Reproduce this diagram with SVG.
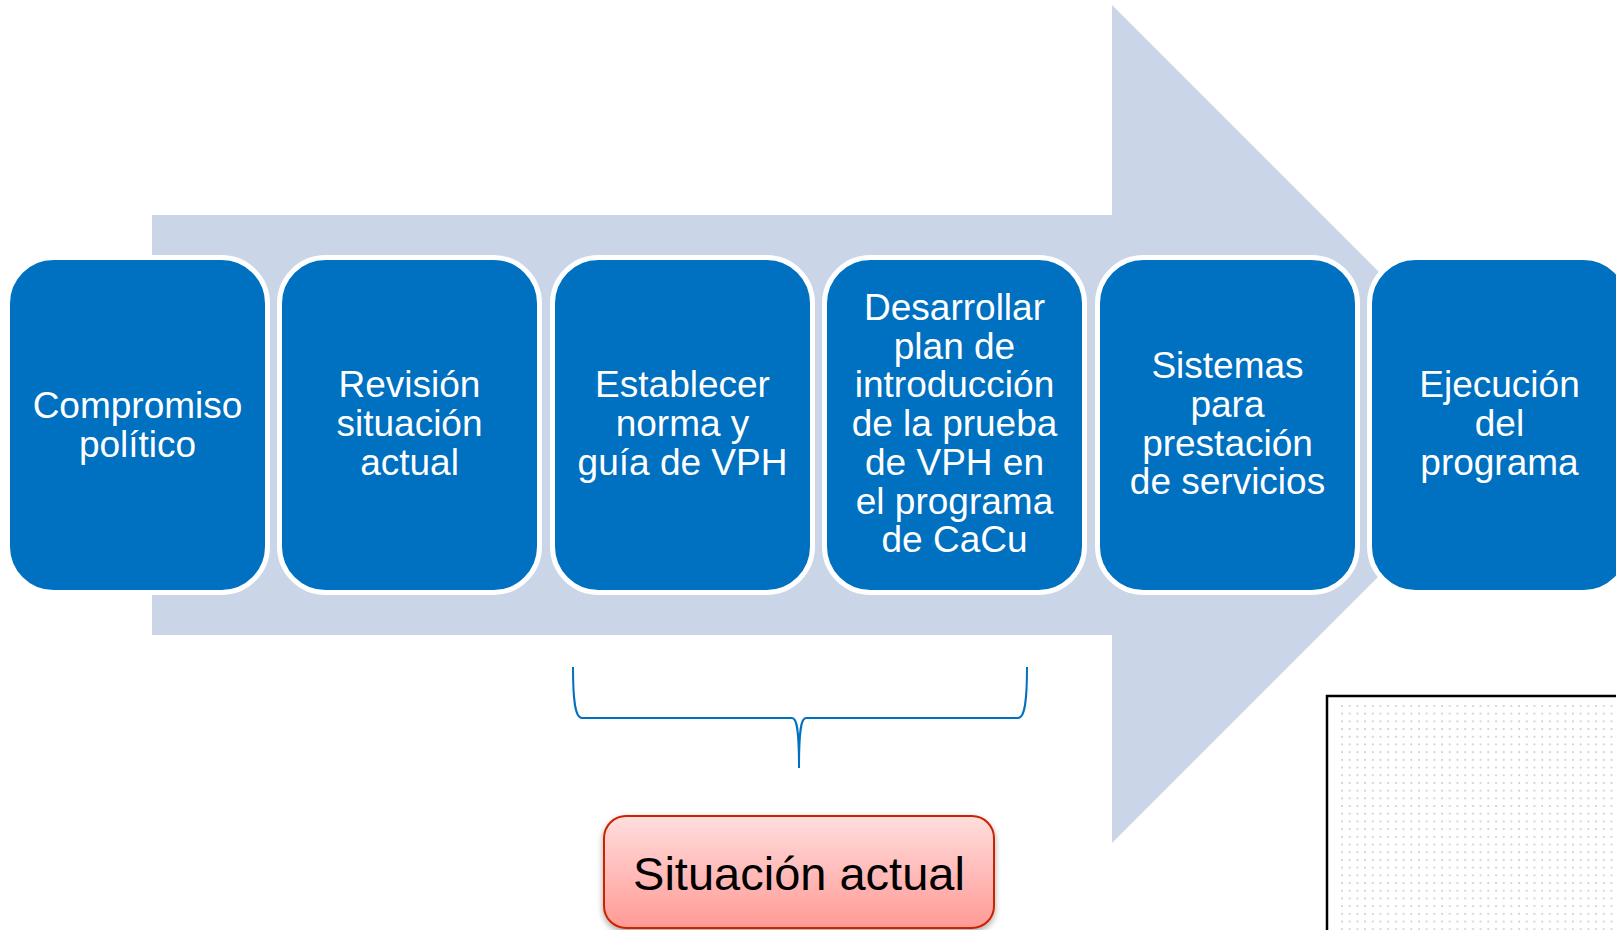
<svg xmlns="http://www.w3.org/2000/svg" width="1616" height="930" viewBox="0 0 1616 930">
  <defs>
    <style>
      .box { fill: #0070C0; stroke: #FFFFFF; stroke-width: 5; }
      .lbl { font-family: "Liberation Sans", Arial, sans-serif; font-size: 37px; fill: #FFFFFF; text-anchor: middle; }
      .brace { fill: none; stroke: #0070C0; stroke-width: 2; }
      .sit { font-family: "Liberation Sans", Arial, sans-serif; font-size: 47px; fill: #000000; text-anchor: middle; }
    </style>
    <linearGradient id="redgrad" x1="0" y1="0" x2="0" y2="1">
      <stop offset="0" stop-color="#FFDEDD"/>
      <stop offset="1" stop-color="#FF9A96"/>
    </linearGradient>
    <pattern id="dots" x="1340" y="704" width="7.7" height="7.7" patternUnits="userSpaceOnUse">
      <circle cx="2" cy="2" r="1" fill="#C8C8C8"/>
    </pattern>
    <filter id="shadow" x="-10%" y="-10%" width="120%" height="130%">
      <feDropShadow dx="0" dy="3" stdDeviation="3" flood-color="#000000" flood-opacity="0.35"/>
    </filter>
  </defs>

  <rect width="1616" height="930" fill="#FFFFFF"/>

  <g id="big-arrow">
    <polygon points="152,215 1112,215 1112,5 1531,424 1112,843 1112,635 152,635" fill="#CBD5E8"/>
  </g>

  <g id="node1">
    <rect class="box" x="7.5" y="257.5" width="260" height="335" rx="46"/>
    <text class="lbl"><tspan x="137.5" y="418">Compromiso</tspan><tspan x="137.5" y="457">político</tspan></text>
  </g>
  <g id="node2">
    <rect class="box" x="279.5" y="257.5" width="260" height="335" rx="46"/>
    <text class="lbl"><tspan x="409.5" y="397">Revisión</tspan><tspan x="409.5" y="436">situación</tspan><tspan x="409.5" y="475">actual</tspan></text>
  </g>
  <g id="node3">
    <rect class="box" x="552.5" y="257.5" width="260" height="335" rx="46"/>
    <text class="lbl"><tspan x="682.5" y="397">Establecer</tspan><tspan x="682.5" y="436">norma y</tspan><tspan x="682.5" y="475">guía de VPH</tspan></text>
  </g>
  <g id="node4">
    <rect class="box" x="824.5" y="257.5" width="260" height="335" rx="46"/>
    <text class="lbl"><tspan x="954.5" y="320">Desarrollar</tspan><tspan x="954.5" y="359">plan de</tspan><tspan x="954.5" y="397">introducción</tspan><tspan x="954.5" y="436">de la prueba</tspan><tspan x="954.5" y="475">de VPH en</tspan><tspan x="954.5" y="514">el programa</tspan><tspan x="954.5" y="552">de CaCu</tspan></text>
  </g>
  <g id="node5">
    <rect class="box" x="1097.5" y="257.5" width="260" height="335" rx="46"/>
    <text class="lbl"><tspan x="1227.5" y="378">Sistemas</tspan><tspan x="1227.5" y="417">para</tspan><tspan x="1227.5" y="456">prestación</tspan><tspan x="1227.5" y="494">de servicios</tspan></text>
  </g>
  <g id="node6">
    <rect class="box" x="1369.5" y="257.5" width="260" height="335" rx="46"/>
    <text class="lbl"><tspan x="1499.5" y="397">Ejecución</tspan><tspan x="1499.5" y="436">del</tspan><tspan x="1499.5" y="475">programa</tspan></text>
  </g>

  <g id="connectors">
    <path class="brace" d="M573,667 C573,700 575,718 582,718 L792,718 C797,718 799,730 799,768 M799,768 C799,730 801,718 806,718 L1018,718 C1025,718 1027,700 1027,667"/>
  </g>

  <g id="situacion">
    <rect x="604" y="816" width="390" height="112" rx="22" fill="url(#redgrad)" stroke="#CC2200" stroke-width="2" filter="url(#shadow)"/>
    <text class="sit" x="799" y="890">Situación actual</text>
  </g>

  <g id="dotted-panel">
    <rect x="1327" y="696" width="300" height="250" fill="#FFFFFF" stroke="#000000" stroke-width="2.5"/>
    <rect x="1336" y="703" width="290" height="240" fill="url(#dots)"/>
  </g>
</svg>
